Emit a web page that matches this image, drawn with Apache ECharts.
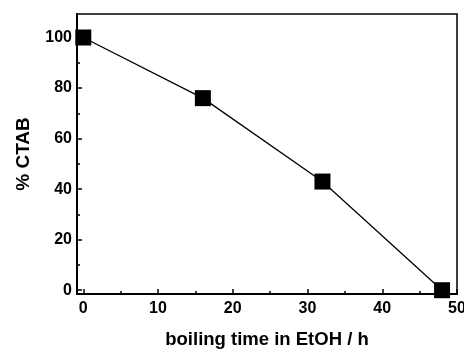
<!DOCTYPE html>
<html><head><meta charset="utf-8">
<script src="https://cdn.jsdelivr.net/npm/echarts@6/dist/echarts.min.js"></script>
<style>html,body{margin:0;padding:0;background:#fff}#c{width:464px;height:349px}</style>
</head><body><div id="c"></div>
<script>
const timeH = [0, 16, 32, 48];
const ctabPct = [100, 76, 43, 0];
const xTicks = [0, 10, 20, 30, 40, 50];
const xMinor = [5, 15, 25, 35, 45];
const yTicks = [0, 20, 40, 60, 80, 100];
const yMinor = [10, 30, 50, 70, 90];

const font = 'Liberation Sans, Arial, sans-serif';
const chart = echarts.init(document.getElementById('c'));
const lbl = {fontFamily: font, fontWeight: 'bold', fontSize: 16, color: '#000'};
const X0 = -0.84, X1 = 50, Y0 = -1.5, Y1 = 109.3;
chart.setOption({
  animation: false,
  grid: {left: 77, right: 7, top: 14, bottom: 55, containLabel: false, outerBoundsMode: 'none',
         show: true, borderColor: '#000', borderWidth: 1.5, backgroundColor: 'transparent'},
  xAxis: [{
    type: 'value', min: X0, max: X1, offset: 0,
    name: 'boiling time in EtOH / h', nameLocation: 'middle', nameGap: 36,
    nameTextStyle: {fontFamily: font, fontWeight: 'bold', fontSize: 18.5, color: '#000'},
    axisLine: {show: true, onZero: false, lineStyle: {color: '#000', width: 2}},
    axisTick: {show: true, inside: true, length: 5, customValues: xTicks, lineStyle: {color: '#000', width: 1.5}},
    axisLabel: Object.assign({customValues: xTicks, margin: 7, hideOverlap: false}, lbl),
    splitLine: {show: false}
  }, {
    type: 'value', min: X0, max: X1, position: 'bottom', offset: 0,
    axisLine: {show: false, onZero: false},
    axisTick: {show: true, inside: true, length: 3, customValues: xMinor, lineStyle: {color: '#000', width: 1.5}},
    axisLabel: {show: false}, splitLine: {show: false}
  }],
  yAxis: [{
    type: 'value', min: Y0, max: Y1, offset: 0,
    name: '% CTAB', nameLocation: 'middle', nameGap: 44,
    nameTextStyle: {fontFamily: font, fontWeight: 'bold', fontSize: 19, color: '#000'},
    axisLine: {show: true, onZero: false, lineStyle: {color: '#000', width: 2}},
    axisTick: {show: true, inside: true, length: 5, customValues: yTicks, lineStyle: {color: '#000', width: 1.5}},
    axisLabel: Object.assign({customValues: yTicks, margin: 5}, lbl),
    splitLine: {show: false}
  }, {
    type: 'value', min: Y0, max: Y1, position: 'left', offset: 0,
    axisLine: {show: false, onZero: false},
    axisTick: {show: true, inside: true, length: 3, customValues: yMinor, lineStyle: {color: '#000', width: 1.5}},
    axisLabel: {show: false}, splitLine: {show: false}
  }],
  series: [{
    type: 'line',
    data: timeH.map((t, i) => [t, ctabPct[i]]),
    symbol: 'rect', symbolSize: 16,
    lineStyle: {color: '#000', width: 1.3},
    itemStyle: {color: '#000'},
    clip: false
  }]
});
</script></body></html>
